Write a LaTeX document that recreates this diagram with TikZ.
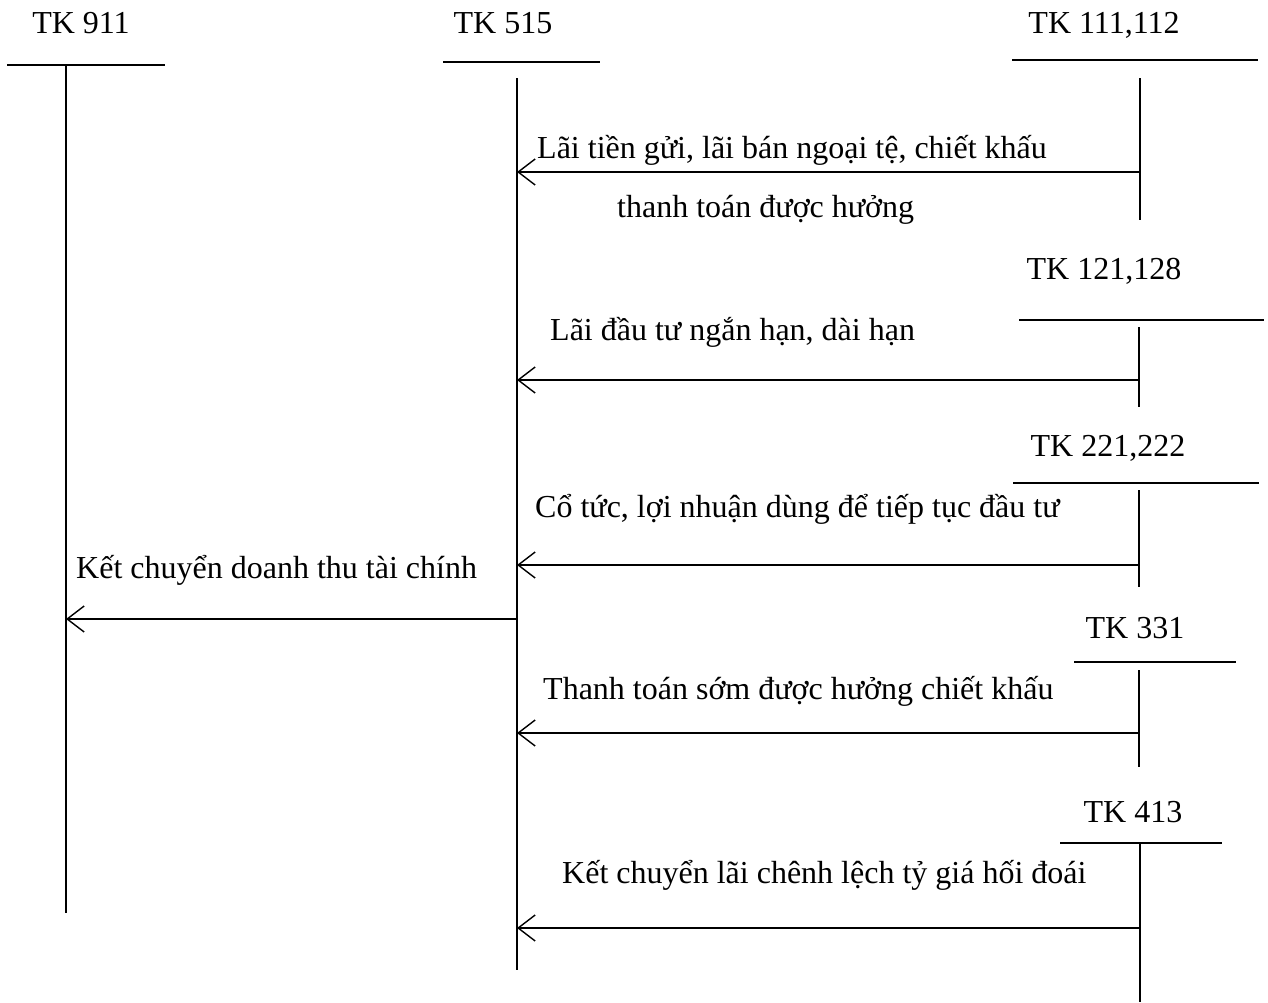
\documentclass[tikz,border=0pt]{standalone}
\usepackage{fontspec}
\setmainfont{Liberation Serif}
\usetikzlibrary{arrows.meta}
\begin{document}
\begin{tikzpicture}[x=1pt,y=-1pt,
  lbl/.style={inner sep=0pt,font=\fontsize{32}{36}\selectfont},
  acct/.style={lbl,anchor=base},
  txt/.style={lbl,anchor=base west},
  tline/.style={line width=1.1pt},
  flow/.style={line width=1.6pt,-{Straight Barb[length=17pt,width=26pt,line width=1.4pt]}}]
\useasboundingbox (0,0) rectangle (1268,1002);
% account labels
\node[acct] (n911) at (81,33) {TK 911};
\node[acct] (n515) at (503,33) {TK 515};
\node[acct] (n111) at (1104,33) {TK 111,112};
\node[acct] (n121) at (1104,279) {TK 121,128};
\node[acct] (n221) at (1108,456) {TK 221,222};
\node[acct] (n331) at (1135,638) {TK 331};
\node[acct] (n413) at (1133,822) {TK 413};
% T-account lines
\draw[tline] (7,65) -- (165,65);
\draw[tline] (66,65) -- (66,913);
\draw[tline] (443,62) -- (600,62);
\draw[tline] (517,78) -- (517,970);
\draw[tline] (1012,60) -- (1258,60);
\draw[tline] (1140,78) -- (1140,220);
\draw[tline] (1019,320) -- (1264,320);
\draw[tline] (1139,327) -- (1139,407);
\draw[tline] (1013,483) -- (1259,483);
\draw[tline] (1139,490) -- (1139,587);
\draw[tline] (1074,662) -- (1236,662);
\draw[tline] (1139,670) -- (1139,767);
\draw[tline] (1060,843) -- (1222,843);
\draw[tline] (1140,843) -- (1140,1002);
% connector end points
\coordinate (s111) at (1140,172); \coordinate (t1) at (517,172);
\coordinate (s121) at (1139,380); \coordinate (t2) at (517,380);
\coordinate (s221) at (1139,565); \coordinate (t3) at (517,565);
\coordinate (s515) at (517,619); \coordinate (t911) at (66,619);
\coordinate (s331) at (1139,733); \coordinate (t4) at (517,733);
\coordinate (s413) at (1140,928); \coordinate (t5) at (517,928);
\draw[flow] (s111) -- (t1);
\draw[flow] (s121) -- (t2);
\draw[flow] (s221) -- (t3);
\draw[flow] (s515) -- (t911);
\draw[flow] (s331) -- (t4);
\draw[flow] (s413) -- (t5);
% labels
\node[txt] (l1) at (537,158) {Lãi tiền gửi, lãi bán ngoại tệ, chiết khấu};
\node[txt] (l1b) at (617,217) {thanh toán được hưởng};
\node[txt] (l2) at (550,340) {Lãi đầu tư ngắn hạn, dài hạn};
\node[txt] (l3) at (535,517) {Cổ tức, lợi nhuận dùng để tiếp tục đầu tư};
\node[txt] (l4) at (76,578) {Kết chuyển doanh thu tài chính};
\node[txt] (l5) at (543,699) {Thanh toán sớm được hưởng chiết khấu};
\node[txt] (l6) at (562,883) {Kết chuyển lãi chênh lệch tỷ giá hối đoái};
\end{tikzpicture}
\end{document}
